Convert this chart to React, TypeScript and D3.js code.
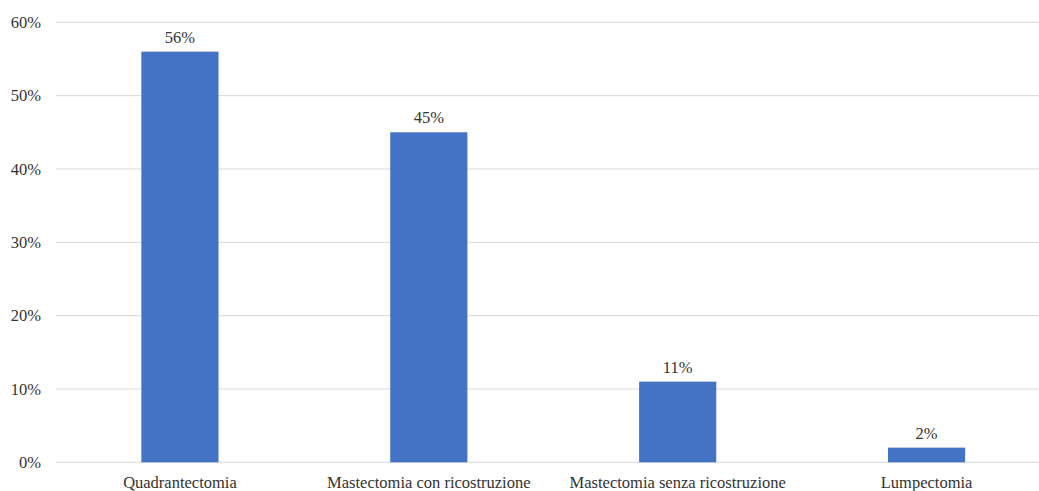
import { useEffect, useRef } from 'react';
import * as d3 from 'd3';

const categories = [
  'Quadrantectomia',
  'Mastectomia con ricostruzione',
  'Mastectomia senza ricostruzione',
  'Lumpectomia',
];
const values = [56, 45, 11, 2];
const yTicks = [0, 10, 20, 30, 40, 50, 60];

const W = 1039;
const H = 491;

export default function App() {
  const ref = useRef<SVGSVGElement>(null);

  useEffect(() => {
    if (!ref.current) return;
    const svg = d3.select(ref.current);
    svg.selectAll('*').remove();

    const left = 55.5;
    const right = 1051;
    const top = 22.3;
    const bottom = 462.3;
    const font = '"Liberation Serif", "Times New Roman", serif';
    const fontSize = '16.5px';
    const textColor = '#333333';

    const x = d3.scaleBand<string>()
      .domain(categories)
      .range([left, right])
      .paddingInner(0.69)
      .paddingOuter(0.345);

    const y = d3.scaleLinear().domain([0, 60]).range([bottom, top]);

    // gridlines
    svg.append('g')
      .selectAll('line')
      .data(yTicks)
      .enter()
      .append('line')
      .attr('x1', left)
      .attr('x2', right)
      .attr('y1', d => y(d))
      .attr('y2', d => y(d))
      .attr('stroke', '#d9d9d9')
      .attr('stroke-width', 1);

    // y tick labels
    svg.append('g')
      .selectAll('text')
      .data(yTicks)
      .enter()
      .append('text')
      .attr('x', 41)
      .attr('y', d => y(d))
      .attr('dy', '0.35em')
      .attr('text-anchor', 'end')
      .style('font-family', font)
      .style('font-size', fontSize)
      .style('fill', textColor)
      .text(d => `${d}%`);

    const data = categories.map((c, i) => ({ c, v: values[i] }));

    // bars
    svg.append('g')
      .selectAll('rect')
      .data(data)
      .enter()
      .append('rect')
      .attr('x', d => x(d.c)!)
      .attr('width', x.bandwidth())
      .attr('y', d => y(d.v))
      .attr('height', d => bottom - y(d.v))
      .attr('fill', '#4472c4');

    // value labels
    svg.append('g')
      .selectAll('text')
      .data(data)
      .enter()
      .append('text')
      .attr('x', d => x(d.c)! + x.bandwidth() / 2)
      .attr('y', d => y(d.v) - 9)
      .attr('text-anchor', 'middle')
      .style('font-family', font)
      .style('font-size', fontSize)
      .style('fill', textColor)
      .text(d => `${d.v}%`);

    // category labels
    svg.append('g')
      .selectAll('text')
      .data(categories)
      .enter()
      .append('text')
      .attr('x', d => x(d)! + x.bandwidth() / 2)
      .attr('y', 482)
      .attr('dy', '0.35em')
      .attr('text-anchor', 'middle')
      .style('font-family', font)
      .style('font-size', fontSize)
      .style('fill', textColor)
      .text(d => d);
  }, []);

  return (
    <div style={{ position: 'absolute', left: 0, top: 0 }}>
      <svg ref={ref} width={W} height={H} style={{ display: 'block', background: '#fff' }} />
    </div>
  );
}
